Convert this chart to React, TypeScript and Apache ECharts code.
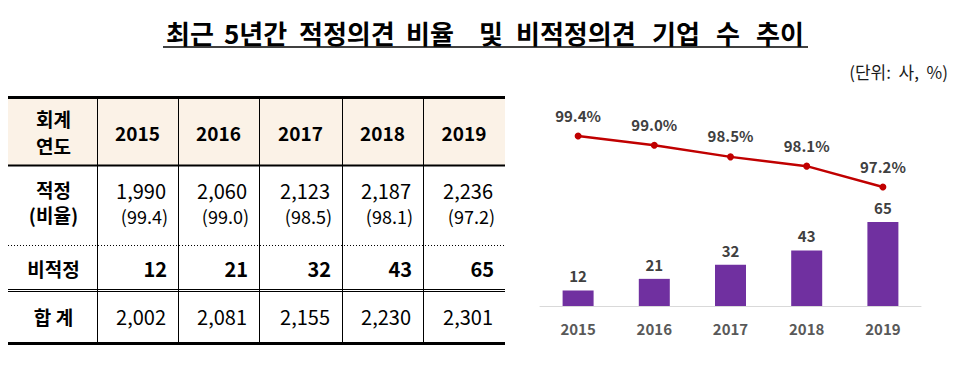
import React, { useEffect, useRef } from "react";
import * as echarts from "echarts";

const years = ["2015", "2016", "2017", "2018", "2019"];
const adequateCounts = [1990, 2060, 2123, 2187, 2236];
const adequateRatios = [99.4, 99.0, 98.5, 98.1, 97.2];
const nonAdequateCounts = [12, 21, 32, 43, 65];
const totals = [2002, 2081, 2155, 2230, 2301];

const titleWords = ["최근", "5년간", "적정의견", "비율", "및", "비적정의견", "기업", "수", "추이"];
const unitText = "(단위:  사,  %)";
const headerLabel = ["회계", "연도"];
const rowLabels = { adequate: ["적정", "(비율)"], non: "비적정", total: "합 계" };

const FONT = "'Noto Sans CJK KR', 'Noto Sans', sans-serif";

const fmt = (n: number) => n.toLocaleString("en-US");

function buildGraphics() {
  const g: any[] = [];
  const colX = [8, 97, 178, 259, 342, 423, 505];
  const L = colX[0];
  const R = colX[colX.length - 1];
  const txt = (x: number, y: number, text: string, size: number, bold: boolean, align: string, fill = "#000") => ({
    type: "text",
    x,
    y,
    silent: true,
    z: 10,
    style: {
      text,
      fontSize: size,
      lineHeight: size,
      fontWeight: bold ? "bold" : "normal",
      fontFamily: FONT,
      fill,
      align,
      verticalAlign: "middle",
    },
  });
  const hline = (y: number, w: number, dash?: number[]) => ({
    type: "line",
    silent: true,
    z: 5,
    shape: { x1: L, y1: y, x2: R, y2: y },
    style: { stroke: "#000", lineWidth: w, lineDash: dash },
  });

  // title (word by word, wide word spacing as in the reference)
  const wordX = [166, 224, 299, 406, 479, 516, 652, 716, 756];
  titleWords.forEach((w, i) => g.push(txt(wordX[i], 32, w, 26, true, "left")));
  g.push({ type: "line", silent: true, shape: { x1: 163, y1: 47, x2: 808, y2: 47 }, style: { stroke: "#000", lineWidth: 1.5 } });
  // unit
  g.push(txt(948, 71, unitText, 17, false, "right", "#1a1a1a"));

  // header background
  g.push({ type: "rect", silent: true, z: 1, shape: { x: L, y: 97, width: R - L, height: 68 }, style: { fill: "#FBF2E7" } });

  // lines
  g.push(hline(97.5, 3));
  g.push(hline(165.5, 2));
  g.push(hline(245.5, 1, [1, 2]));
  g.push(hline(289.5, 1));
  g.push(hline(291.5, 1));
  g.push(hline(343.5, 3));
  for (let i = 1; i < colX.length - 1; i++) {
    g.push({ type: "line", silent: true, z: 5, shape: { x1: colX[i] + 0.5, y1: 97, x2: colX[i] + 0.5, y2: 343 }, style: { stroke: "#000", lineWidth: 1 } });
  }

  const c0 = (colX[0] + colX[1]) / 2 + 1;
  g.push(txt(c0, 118, headerLabel[0], 19, true, "center"));
  g.push(txt(c0, 145, headerLabel[1], 19, true, "center"));
  g.push(txt(c0, 189, rowLabels.adequate[0], 19, true, "center"));
  g.push(txt(c0, 214, rowLabels.adequate[1], 19, true, "center"));
  g.push(txt(c0, 268, rowLabels.non, 19, true, "center"));
  g.push(txt(c0, 316, rowLabels.total, 19, true, "center"));

  years.forEach((yr, i) => {
    const left = colX[i + 1];
    const right = colX[i + 2];
    g.push(txt((left + right) / 2, 132, yr, 19, true, "center"));
    g.push(txt(right - 12, 190, fmt(adequateCounts[i]), 20, false, "right"));
    g.push(txt(right - 10, 216, "(" + adequateRatios[i].toFixed(1) + ")", 18, false, "right"));
    g.push(txt(right - 11, 268, fmt(nonAdequateCounts[i]), 20, true, "right"));
    g.push(txt(right - 12, 316, fmt(totals[i]), 20, false, "right"));
  });
  return g;
}

export default function App() {
  const ref = useRef<HTMLDivElement>(null);
  useEffect(() => {
    if (!ref.current) return;
    const chart = echarts.init(ref.current, null, { renderer: "svg" });
    chart.setOption({
      animation: false,
      backgroundColor: "#fff",
      grid: [
        { left: 540, width: 381, top: 200, height: 106 },
        { left: 540, width: 381, top: 116, height: 80 },
      ],
      xAxis: [
        {
          type: "category",
          gridIndex: 0,
          data: years,
          axisLine: { lineStyle: { color: "#D9D9D9", width: 1 } },
          axisTick: { show: false },
          axisLabel: { color: "#595959", fontWeight: "bold", fontSize: 15, margin: 15, fontFamily: FONT },
        },
        { type: "category", gridIndex: 1, data: years, show: false },
      ],
      yAxis: [
        { type: "value", gridIndex: 0, min: 0, max: 82, show: false, splitLine: { show: false } },
        { type: "value", gridIndex: 1, min: 96.812, max: 100.263, show: false, splitLine: { show: false } },
      ],
      series: [
        {
          type: "bar",
          xAxisIndex: 0,
          yAxisIndex: 0,
          data: nonAdequateCounts,
          barWidth: 31,
          itemStyle: { color: "#7030A0" },
          label: { show: true, position: "top", distance: 7, color: "#404040", fontWeight: "bold", fontSize: 15, fontFamily: FONT },
        },
        {
          type: "line",
          xAxisIndex: 1,
          yAxisIndex: 1,
          data: adequateRatios,
          symbol: "circle",
          symbolSize: 7,
          lineStyle: { color: "#C00000", width: 2.5 },
          itemStyle: { color: "#C00000" },
          label: {
            show: true,
            position: "top",
            distance: 10,
            color: "#404040",
            fontWeight: "bold",
            fontSize: 15,
            fontFamily: FONT,
            formatter: (p: any) => Number(p.value).toFixed(1) + "%",
          },
        },
      ],
      graphic: buildGraphics(),
    });
    return () => chart.dispose();
  }, []);
  return <div ref={ref} style={{ position: "fixed", left: 0, top: 0, width: 953, height: 381 }} />;
}
